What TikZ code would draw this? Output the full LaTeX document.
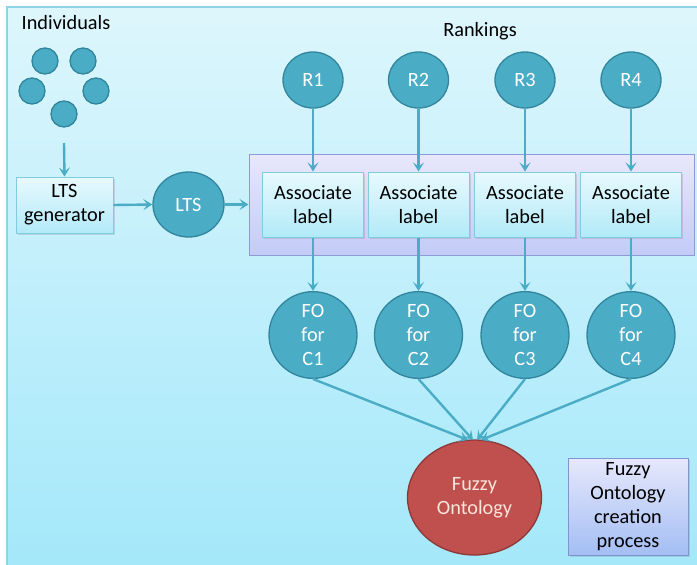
\documentclass[tikz,border=0pt]{standalone}
\usepackage{fontspec}
\setmainfont{Carlito}
\usetikzlibrary{arrows.meta,shapes.geometric,shadows}

\definecolor{aqua}{HTML}{4BACC6}
\definecolor{aquadark}{HTML}{31859C}
\definecolor{bgtop}{HTML}{DDF6FC}
\definecolor{bgbot}{HTML}{A4E8FA}
\definecolor{frameline}{HTML}{8FD3E6}
\definecolor{lavtop}{HTML}{E8E7FB}
\definecolor{lavbot}{HTML}{C3CBF6}
\definecolor{lavline}{HTML}{8E9AD6}
\definecolor{boxtop}{HTML}{E8F9FE}
\definecolor{boxbot}{HTML}{B2EAF8}
\definecolor{boxline}{HTML}{7FCBE0}
\definecolor{legtop}{HTML}{E6E8FC}
\definecolor{legbot}{HTML}{A4BEF4}
\definecolor{legline}{HTML}{8094CF}
\definecolor{fuzzyred}{HTML}{C0504D}
\definecolor{fuzzyline}{HTML}{8C3836}
\definecolor{fuzzytext}{HTML}{FBE4DC}

\tikzset{
  every node/.style={font=\fontsize{20.3}{24}\selectfont, inner sep=0pt},
  aquadot/.style={circle, fill=aqua, draw=aquadark, line width=1.3pt, minimum size=26pt},
  aquaoval/.style={ellipse, fill=aqua, draw=aquadark, line width=1.3pt, text=white, align=center},
  stepbox/.style={rectangle, top color=boxtop, bottom color=boxbot, draw=boxline, line width=1pt,
    align=center, drop shadow={opacity=0.25, shadow xshift=1.5pt, shadow yshift=-1.5pt}},
  flow/.style={draw=aqua, line width=2.4pt, -{Stealth[length=9pt, width=11pt, inset=4pt]}},
}

\begin{document}
\begin{tikzpicture}[x=1pt, y=-1pt]
  % canvas and panel background
  \useasboundingbox (0,0) rectangle (697,565);
  \fill[white] (0,0) rectangle (697,565);
  \shade[top color=bgtop, bottom color=bgbot] (7,7) rectangle (697,565);
  \draw[frameline, line width=1.2pt] (7,565) -- (7,7) -- (697,7);

  % individuals
  \node (indtxt) at (66,23) {Individuals};
  \node[aquadot] (p1) at (45,61) {};
  \node[aquadot] (p2) at (83,61) {};
  \node[aquadot] (p3) at (32,91) {};
  \node[aquadot] (p4) at (96,91) {};
  \node[aquadot] (p5) at (64,114) {};
  \coordinate (pin) at (64,143);

  % LTS generation
  \node[stepbox, minimum width=97pt, minimum height=56pt] (gen) at (64.5,205) {LTS\\generator};
  \node[aquaoval, minimum width=71pt, minimum height=65pt] (lts) at (188.5,204.5) {LTS};

  % label association panel
  \node[rectangle, top color=lavtop, bottom color=lavbot, draw=lavline, line width=1pt,
        minimum width=445pt, minimum height=101pt] (panel) at (471.5,204.5) {};

  \node (ranktxt) at (480,31) {Rankings};
  \foreach \i/\x in {1/313,2/418.5,3/525,4/631}{
    \node[aquaoval, minimum width=60pt, minimum height=56pt] (r\i) at (\x,80) {R\i};
    \node[stepbox, minimum width=101pt, minimum height=65pt] (a\i) at (\x,204.5) {Associate\\label};
    \node[aquaoval, minimum width=88pt, minimum height=76pt] (fo\i) at (\x,335) {FO\\for\\C\i};
  }

  % result
  \node[ellipse, fill=fuzzyred, draw=fuzzyline, line width=1.3pt, text=fuzzytext, align=center,
        minimum width=134pt, minimum height=115pt] (fuzzy) at (474.5,497.5) {Fuzzy\\Ontology};
  \node[rectangle, top color=legtop, bottom color=legbot, draw=legline, line width=1pt, align=center,
        minimum width=120pt, minimum height=97pt,
        drop shadow={opacity=0.25, shadow xshift=1.5pt, shadow yshift=-1.5pt}] (legend) at (628,506.5)
        {Fuzzy\\Ontology\\creation\\process};

  % connectors
  \draw[flow] (pin) -- (gen.north);
  \draw[flow] (gen.east) -- (lts.west);
  \draw[flow] (lts.east) -- (panel.west);
  \foreach \i in {1,...,4}{
    \draw[flow] (r\i.south) -- (a\i.north);
    \draw[flow] (a\i.south) -- (fo\i.north);
  }
  \coordinate (t1) at (468,440);
  \coordinate (t2) at (473,440);
  \coordinate (t3) at (477,440);
  \coordinate (t4) at (481,440);
  \foreach \i in {1,...,4}{
    \draw[flow] (fo\i.south) -- (t\i);
  }
\end{tikzpicture}
\end{document}
